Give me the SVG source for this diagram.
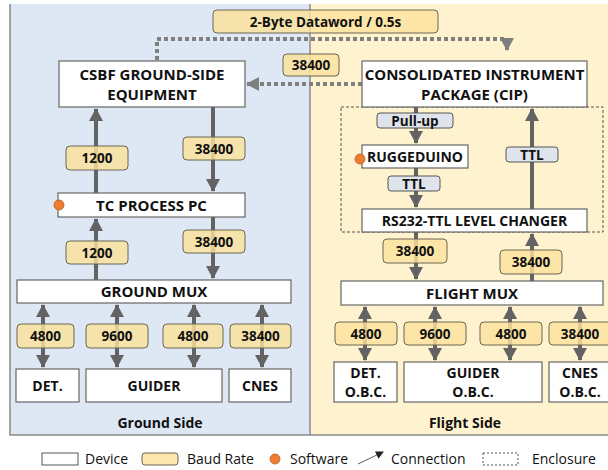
<svg xmlns="http://www.w3.org/2000/svg" width="608" height="470" viewBox="0 0 608 470">
<style>
text{font-family:"Open Sans","Noto Sans",sans-serif;fill:#111;}
.t{font-weight:bold;font-size:15px;text-anchor:middle;}
.tc{font-weight:bold;font-size:14px;text-anchor:middle;}
.l{font-weight:bold;font-size:13.5px;text-anchor:middle;}
.lg{font-size:14px;}
.box{fill:#fff;stroke:#666;stroke-width:1.2;}
.baud{fill:#fbe29c;fill-opacity:0.82;stroke:#6b6652;stroke-width:1;}
.sig{fill:#dfe3ec;stroke:#555;stroke-width:1;}
.sw{fill:#ee7d31;stroke:#b5591c;stroke-width:0.8;}
.c{stroke:#636363;stroke-width:4;fill:none;}
.d{stroke:#7f7f7f;stroke-width:4;fill:none;stroke-dasharray:4 3;}
</style>
<defs>
<marker id="ah" markerUnits="userSpaceOnUse" markerWidth="14" markerHeight="14" viewBox="0 0 14 14" refX="12" refY="7" orient="auto-start-reverse">
<path d="M0,0 L13,7 L0,14 z" fill="#636363"/>
</marker>
<marker id="ahd" markerUnits="userSpaceOnUse" markerWidth="14" markerHeight="14" viewBox="0 0 14 14" refX="12" refY="7" orient="auto">
<path d="M0,0 L13,7 L0,14 z" fill="#7f7f7f"/>
</marker>
<marker id="ahs" markerUnits="userSpaceOnUse" markerWidth="8" markerHeight="8" viewBox="0 0 8 8" refX="7" refY="4" orient="auto">
<path d="M0,0 L8,4 L0,8 z" fill="#222"/>
</marker>
</defs>

<g id="panels">
<rect x="10" y="4" width="300" height="431" fill="#dde8f4"/>
<rect x="310" y="4" width="310" height="431" fill="#fff2cf"/>
<path d="M10,4 V435 H620 M310,4 V435" fill="none" stroke="#8a8a8a" stroke-width="1.5"/>
<text class="tc" x="160" y="428" font-size="13.5">Ground Side</text>
<text class="tc" x="465" y="428" font-size="13.5">Flight Side</text>
</g>

<g id="enclosure">
<rect x="341" y="107" width="262" height="125" fill="none" stroke="#555" stroke-width="1" stroke-dasharray="3 2"/>
</g>

<g id="connectors">
<path class="d" d="M157,60 V39 H507 V50" marker-end="url(#ahd)"/>
<path class="d" d="M362,84 H247" marker-end="url(#ahd)"/>
<path class="c" d="M96,193 V109" marker-end="url(#ah)"/>
<path class="c" d="M213,107 V191" marker-end="url(#ah)"/>
<path class="c" d="M96,280 V219" marker-end="url(#ah)"/>
<path class="c" d="M213,217 V278" marker-end="url(#ah)"/>
<path class="c" d="M43,305 V367" marker-start="url(#ah)" marker-end="url(#ah)"/>
<path class="c" d="M117,305 V367" marker-start="url(#ah)" marker-end="url(#ah)"/>
<path class="c" d="M194,305 V367" marker-start="url(#ah)" marker-end="url(#ah)"/>
<path class="c" d="M262,305 V367" marker-start="url(#ah)" marker-end="url(#ah)"/>
<path class="c" d="M416,107 V143" marker-end="url(#ah)"/>
<path class="c" d="M416,168 V207" marker-end="url(#ah)"/>
<path class="c" d="M532,209 V109" marker-end="url(#ah)"/>
<path class="c" d="M416,232 V279" marker-end="url(#ah)"/>
<path class="c" d="M532,281 V234" marker-end="url(#ah)"/>
<path class="c" d="M365,307 V360" marker-start="url(#ah)" marker-end="url(#ah)"/>
<path class="c" d="M435,307 V360" marker-start="url(#ah)" marker-end="url(#ah)"/>
<path class="c" d="M510,307 V360" marker-start="url(#ah)" marker-end="url(#ah)"/>
<path class="c" d="M580,307 V360" marker-start="url(#ah)" marker-end="url(#ah)"/>
</g>

<g id="labels">
<rect class="baud" x="213" y="10" width="225" height="23" rx="4"/>
<text class="l" x="325.5" y="26.5" font-size="14">2-Byte Dataword / 0.5s</text>
<rect class="baud" x="283" y="54" width="56" height="22" rx="4"/>
<text class="l" x="311" y="70">38400</text>
<rect class="baud" x="66" y="146" width="62" height="24" rx="4"/>
<text class="l" x="97" y="163">1200</text>
<rect class="baud" x="183" y="137" width="62" height="23" rx="4"/>
<text class="l" x="214" y="153.5">38400</text>
<rect class="baud" x="66" y="241" width="62" height="23" rx="4"/>
<text class="l" x="97" y="257.5">1200</text>
<rect class="baud" x="183" y="230" width="62" height="23" rx="4"/>
<text class="l" x="214" y="246.5">38400</text>
<rect class="baud" x="17" y="324" width="57" height="24" rx="4"/>
<text class="l" x="45.5" y="341">4800</text>
<rect class="baud" x="86" y="324" width="62" height="24" rx="4"/>
<text class="l" x="117" y="341">9600</text>
<rect class="baud" x="163" y="324" width="60" height="24" rx="4"/>
<text class="l" x="193" y="341">4800</text>
<rect class="baud" x="230" y="324" width="61" height="24" rx="4"/>
<text class="l" x="260.5" y="341">38400</text>
<rect class="sig" x="377" y="113" width="76" height="15" rx="3"/>
<text class="l" x="415" y="125.5">Pull-up</text>
<rect class="sig" x="506" y="147" width="52" height="15" rx="3"/>
<text class="l" x="532" y="159.5">TTL</text>
<rect class="sig" x="388" y="176" width="52" height="15" rx="3"/>
<text class="l" x="414" y="188.5">TTL</text>
<rect class="baud" x="383" y="239" width="64" height="24" rx="4"/>
<text class="l" x="415" y="256">38400</text>
<rect class="baud" x="500" y="250" width="62" height="24" rx="4"/>
<text class="l" x="531" y="267">38400</text>
<rect class="baud" x="335" y="322" width="62" height="23" rx="4"/>
<text class="l" x="366" y="338.5">4800</text>
<rect class="baud" x="404" y="322" width="62" height="23" rx="4"/>
<text class="l" x="435" y="338.5">9600</text>
<rect class="baud" x="480" y="322" width="62" height="23" rx="4"/>
<text class="l" x="511" y="338.5">4800</text>
<rect class="baud" x="549" y="322" width="70" height="23" rx="4"/>
<text class="l" x="580" y="338.5">38400</text>
</g>

<g id="csbf"><rect class="box" x="59" y="61" width="186" height="46"/>
<text class="t" x="152" y="80">CSBF GROUND-SIDE</text><text class="t" x="152" y="100">EQUIPMENT</text></g>
<g id="cip"><rect class="box" x="362" y="61" width="225" height="46"/>
<text class="t" x="474.5" y="80" font-size="14">CONSOLIDATED INSTRUMENT</text><text class="t" x="474.5" y="100" font-size="14">PACKAGE (CIP)</text></g>
<g id="tcpc"><rect class="box" x="58" y="193" width="187" height="24"/>
<text class="t" x="151.5" y="210.5">TC PROCESS PC</text>
<circle class="sw" cx="59" cy="205" r="5"/></g>
<g id="groundmux"><rect class="box" x="17" y="280" width="274" height="23"/>
<text class="t" x="154" y="297">GROUND MUX</text></g>
<g id="det"><rect class="box" x="16" y="369" width="63" height="33"/>
<text class="tc" x="47.5" y="391">DET.</text></g>
<g id="guider"><rect class="box" x="86" y="369" width="136" height="33"/>
<text class="tc" x="154" y="391">GUIDER</text></g>
<g id="cnes"><rect class="box" x="229" y="369" width="62" height="33"/>
<text class="tc" x="260" y="391">CNES</text></g>
<g id="ruggeduino"><rect class="box" x="362" y="145" width="106" height="23"/>
<text class="tc" x="415" y="161.5">RUGGEDUINO</text>
<circle class="sw" cx="360" cy="159" r="5"/></g>
<g id="rs232"><rect class="box" x="362" y="209" width="225" height="23"/>
<text class="tc" x="474.5" y="226">RS232-TTL LEVEL CHANGER</text></g>
<g id="flightmux"><rect class="box" x="341" y="281" width="262" height="24"/>
<text class="t" x="472" y="298.5">FLIGHT MUX</text></g>
<g id="detobc"><rect class="box" x="334" y="362" width="63" height="40"/>
<text class="tc" x="365.5" y="378">DET.</text><text class="tc" x="365.5" y="397">O.B.C.</text></g>
<g id="guiderobc"><rect class="box" x="404" y="362" width="138" height="40"/>
<text class="tc" x="473" y="378">GUIDER</text><text class="tc" x="473" y="397">O.B.C.</text></g>
<g id="cnesobc"><rect class="box" x="549" y="362" width="70" height="40"/>
<text class="tc" x="580" y="378">CNES</text><text class="tc" x="580" y="397">O.B.C.</text></g>

<g id="legend">
<rect x="42" y="453" width="36" height="12" fill="#fff" stroke="#555" stroke-width="1"/>
<text class="lg" x="85" y="464">Device</text>
<rect class="baud" x="142" y="453" width="36" height="12" rx="3"/>
<text class="lg" x="187" y="464">Baud Rate</text>
<circle class="sw" cx="275" cy="459" r="5"/>
<text class="lg" x="290" y="464">Software</text>
<path d="M358,464 L383,452" stroke="#333" stroke-width="0.8" fill="none" marker-end="url(#ahs)"/>
<text class="lg" x="391" y="464">Connection</text>
<rect x="483" y="453" width="35" height="12" fill="none" stroke="#555" stroke-width="1" stroke-dasharray="2 2"/>
<text class="lg" x="532" y="464">Enclosure</text>
</g>
</svg>
